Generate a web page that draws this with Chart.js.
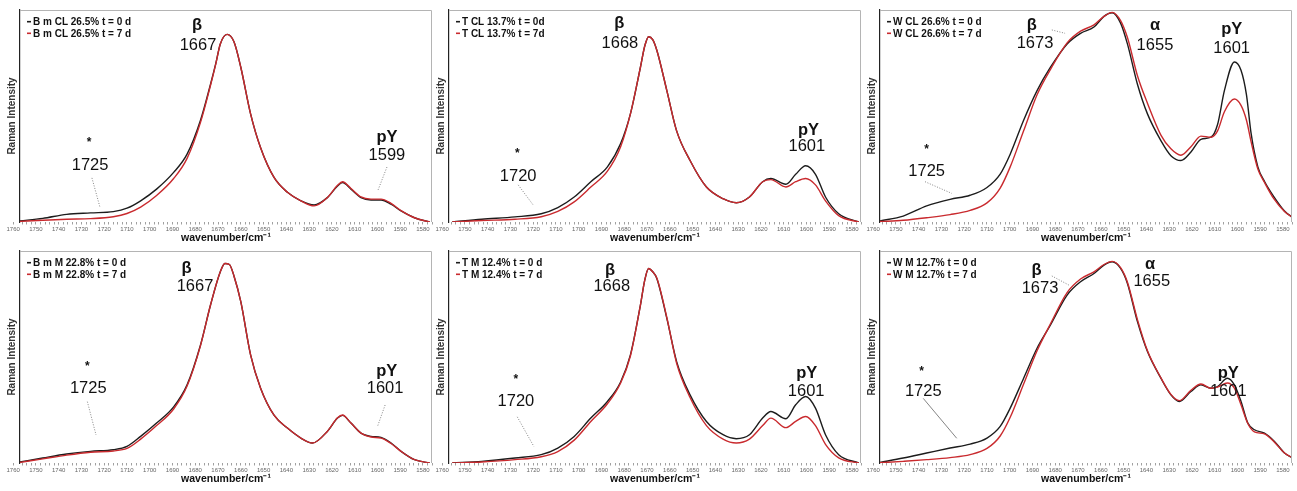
<!DOCTYPE html>
<html>
<head>
<meta charset="utf-8">
<script src="https://cdn.jsdelivr.net/npm/chart.js@4/dist/chart.umd.min.js"></script>
<style>
  html, body { margin: 0; padding: 0; background: #fff; }
  body { width: 1297px; height: 491px; position: relative; overflow: hidden; }
  canvas { position: absolute; }
</style>
</head>
<body>
<canvas id="bmCL" width="433" height="246" style="left:0px;top:0px"></canvas>
<canvas id="tCL" width="433" height="246" style="left:429px;top:0px"></canvas>
<canvas id="wCL" width="433" height="246" style="left:860px;top:0px"></canvas>
<canvas id="bmM" width="433" height="246" style="left:0px;top:241px"></canvas>
<canvas id="tM" width="433" height="246" style="left:429px;top:241px"></canvas>
<canvas id="wM" width="433" height="246" style="left:860px;top:241px"></canvas>
<script>
// Raman spectra, amide I region, intensities normalised (0-100)
var bmCL_wn = [1757,1747,1736.5,1726,1716,1710,1704,1697,1689.5,1683.6,1677.7,1673.3,1671,1669,1666,1663,1660,1655.7,1651.3,1645.4,1639.5,1633.6,1627.8,1622,1617.5,1615.3,1611.6,1607.2,1602.8,1598.4,1594,1589.6,1583.7,1577];
var bmCL_t0 = [0.5,1.7,3.6,4.3,4.9,6.5,10,15.5,23.4,32,48,65,74.7,84,88.5,85,73,51,35,21,14,10,8,11.5,17,18.6,15.5,11.5,10.4,10.4,8.4,5.2,2,0];
var bmCL_t7 = [0.3,0.8,1.3,1.6,2.5,4,7,12.5,20.5,30,47,64.5,74.5,84,88.5,85,73,51,35,21,14,10,7.6,11.5,17.3,19,15.8,11.8,10.8,10.8,8.8,5.4,2,0];

var tCL_wn = [1755.6,1742.6,1728,1716.5,1709.2,1702,1694.7,1687.4,1681.6,1677.3,1672.9,1671,1669.3,1667.5,1665.7,1661.3,1657,1651.1,1643.9,1636.6,1630.8,1625,1619.2,1615.6,1609,1604.7,1600.3,1596,1591.6,1585.8,1577];
var tCL_t0 = [0,1.3,2.4,3.9,6.8,11.8,19,26,37,51,73,83,87.4,86,81,62,43,29,16.5,11,9.1,11.8,19,20.5,17.8,22.5,26.5,22.5,11.8,3.9,0];
var tCL_t7 = [0,0.7,1.3,2.5,5,9.5,16.5,24,35.5,51,73,83,87.4,86,81,62,43,29,16.5,11,9.1,11.8,19,20,16.5,19,20.5,17.5,10,3,0];

var wCL_wn = [1757,1746.8,1736.5,1726.2,1717.4,1710,1704.2,1699.8,1693.9,1688,1682.1,1674.8,1668.9,1663,1658.6,1655,1651.3,1648.3,1643.9,1639.5,1633.6,1629.2,1624.8,1620.4,1616,1611.6,1608.7,1605.7,1601.3,1598.4,1596,1594,1591,1588,1584,1579.3,1575.6];
var wCL_t0 = [0.5,2.8,7.6,10.7,12.6,16.3,22.6,32,48,62,73,84,89,92,97,98.7,93.8,84,65,51,38.4,31.3,29,33,39,40,46,62,75.5,71.6,60,42,26,19,12,5.2,2];
var wCL_t7 = [0.2,0.8,2,3.5,5.5,9,16,26,43,60,72,84.5,90,93,97,98.9,95,87,69,56,41,34.5,31.5,35.5,40.5,40,43,52,58,55,48,38,25,18.5,11,5,2];

var bmM_wn = [1757,1747,1736.5,1726,1716,1710,1704,1697,1689.5,1683.6,1677.7,1673.3,1669,1667,1665,1663,1660,1655.7,1651.3,1645.4,1639.5,1633.6,1628.5,1622,1617.5,1615.3,1611.6,1607.2,1602.8,1598.4,1594,1589.6,1583.7,1577];
var bmM_t0 = [0.5,2.4,4.3,5.6,6.4,8,12.8,19.2,27,37.6,56.8,76,92,96,95.5,90,77.6,52,36,23,16.8,12,9.6,15.2,21.6,22.9,19.2,14.4,12.8,12.3,9.6,5.6,1.6,0];
var bmM_t7 = [0.3,2,3.8,5.2,5.8,7,11.5,18,26,37,56.5,76,92,96,95.5,90,77.6,52,36,23,16.8,12,9.6,15.2,21.8,23.1,19.2,14.4,12.5,12,9.4,5.6,1.6,0];

var tM_wn = [1755.6,1742.6,1728,1716.5,1709.2,1702,1694.7,1687.4,1681.6,1677.3,1672.9,1671,1669.3,1667.5,1665.7,1661.3,1657,1651.1,1643.9,1636.6,1630.8,1625,1619.2,1615.6,1609,1604.7,1600.3,1596,1591.6,1585.8,1577];
var tM_t0 = [0,0.8,2.4,4,7.2,12.8,21.6,29.6,39,52,76,88,93.6,92,88.8,69.6,48.8,32.8,20,13.6,11.7,13.6,21.6,24.8,21.3,28,32,26.4,13.6,4,0];
var tM_t7 = [0,0.5,1.6,3,5.5,11,20,28.5,38.5,51.5,76,88,93.6,92,89,70,48,31.5,18,11.5,9.6,11.5,18,21.6,17,20,22.4,18,9,2.5,0];

var wM_wn = [1757,1746.8,1736.5,1726.2,1717.4,1710,1704.2,1699.8,1693.9,1688,1682.1,1674.8,1668.9,1663,1658.6,1655,1651.3,1648.3,1643.9,1639.5,1633.6,1629.2,1625.5,1620.4,1616,1611.6,1608.7,1604.4,1601.3,1598.4,1595.4,1592.5,1588.1,1583.7,1579.3,1575.6];
var wM_t0 = [0.3,2.4,4.8,7.2,9.1,12,17.6,26.4,40.8,55.2,66.4,80.8,87.2,91.2,95.2,96.8,93.6,86.4,68,53.6,40.8,32.8,29.6,34.4,37.6,36,36.8,40.8,37.6,29.6,19.2,16,14.4,10.4,4.8,2.4];
var wM_t7 = [0.1,0.8,1.6,2.6,4,7,13,22,38,54,67,82,88.5,92,95.5,97,94,87,69,54,41,33,30,35,38,36,36.5,38.5,36,28,19,15,14,10,4.8,2.4];

// x axis: labels every 10 cm-1, small ticks every 2
var tickLabels = [1760,1750,1740,1730,1720,1710,1700,1690,1680,1670,1660,1650,1640,1630,1620,1610,1600,1590,1580];

var FONT = "'Liberation Sans', Arial, sans-serif";
var BLACK = '#1c1c1c';
var RED = '#c92a2e';

// inline legend in the top-left corner of the plot
var cornerLegend = {
  id: 'cornerLegend',
  afterDraw: function(chart) {
    var ctx = chart.ctx, a = chart.chartArea;
    ctx.save();
    ctx.font = 'bold 10px ' + FONT;
    ctx.textBaseline = 'middle';
    chart.data.datasets.forEach(function(ds, i) {
      var y = a.top + 11.7 + i * 11.6;
      ctx.strokeStyle = ds.borderColor;
      ctx.lineWidth = 1.6;
      ctx.beginPath();
      ctx.moveTo(a.left + 7, y);
      ctx.lineTo(a.left + 11, y);
      ctx.stroke();
      ctx.fillStyle = '#111';
      ctx.fillText(ds.label, a.left + 13, y + 0.5);
    });
    ctx.restore();
  }
};

// peak labels and leader lines, placed in data units
var peakNotes = {
  id: 'peakNotes',
  afterDatasetsDraw: function(chart, args, opts) {
    var ctx = chart.ctx, xs = chart.scales.x, ys = chart.scales.y;
    ctx.save();
    (opts.leaders || []).forEach(function(l) {
      ctx.strokeStyle = '#666';
      ctx.lineWidth = 0.8;
      ctx.setLineDash(l.solid ? [] : [1, 1.6]);
      ctx.beginPath();
      ctx.moveTo(xs.getPixelForValue(l.from[0]), ys.getPixelForValue(l.from[1]));
      ctx.lineTo(xs.getPixelForValue(l.to[0]), ys.getPixelForValue(l.to[1]));
      ctx.stroke();
    });
    ctx.setLineDash([]);
    ctx.textAlign = 'center';
    ctx.textBaseline = 'middle';
    ctx.fillStyle = '#111';
    (opts.labels || []).forEach(function(n) {
      ctx.font = (n.bold ? 'bold ' : '') + (n.size || 16.5) + 'px ' + FONT;
      ctx.fillText(n.text, xs.getPixelForValue(n.x), ys.getPixelForValue(n.y));
    });
    ctx.restore();
  }
};

// gray top and right edges of the plot frame
var plotFrame = {
  id: 'plotFrame',
  afterDraw: function(chart) {
    var ctx = chart.ctx, a = chart.chartArea;
    ctx.save();
    ctx.strokeStyle = '#b4b4b4';
    ctx.lineWidth = 1;
    ctx.beginPath();
    ctx.moveTo(a.left, a.top + 0.5);
    ctx.lineTo(a.right - 0.5, a.top + 0.5);
    ctx.lineTo(a.right - 0.5, a.bottom);
    ctx.stroke();
    ctx.restore();
  }
};

function series(wn, vals) {
  return wn.map(function(x, i) { return { x: x, y: vals[i] }; });
}

function makePanel(id, wn, t0, t7, names, yMax, labels, leaders) {
  new Chart(document.getElementById(id), {
    type: 'line',
    data: {
      datasets: [
        { label: names[0], data: series(wn, t0), borderColor: BLACK, borderWidth: 1.4, order: 1 },
        { label: names[1], data: series(wn, t7), borderColor: RED, borderWidth: 1.4, order: 0 }
      ]
    },
    options: {
      responsive: false,
      animation: false,
      layout: { autoPadding: false, padding: { top: 10, right: 1, left: 0, bottom: 0 } },
      elements: {
        point: { radius: 0 },
        line: { cubicInterpolationMode: 'monotone', fill: false }
      },
      plugins: {
        legend: { display: false },
        tooltip: { enabled: false },
        peakNotes: { labels: labels, leaders: leaders }
      },
      scales: {
        x: {
          type: 'linear',
          reverse: true,
          min: 1576,
          max: 1757,
          afterFit: function(s) { s.height = 24; s.paddingLeft = 0; s.paddingRight = 0; },
          afterBuildTicks: function(s) {
            // left to right: 1760 label just outside, then every 2 cm-1
            var t = [{ value: tickLabels[0] }];
            for (var v = 1756; v >= 1576; v -= 2) t.push({ value: v });
            s.ticks = t;
          },
          ticks: {
            autoSkip: false,
            maxRotation: 0,
            padding: 1,
            color: '#666',
            font: { family: FONT, size: 6 },
            callback: function(v) { return tickLabels.indexOf(v) >= 0 ? String(v) : ''; }
          },
          grid: { display: true, drawOnChartArea: false, drawTicks: true, tickLength: 2.5, tickColor: '#888', tickWidth: 0.8 },
          border: { display: false },
          title: {
            display: true,
            text: 'wavenumber/cm\u207B\u00B9',
            color: '#111',
            font: { family: FONT, size: 10.5, weight: 'bold' },
            padding: { top: 0, bottom: 2 }
          }
        },
        y: {
          min: 0,
          max: yMax,
          afterFit: function(s) { s.width = 20; },
          ticks: { display: false },
          grid: { display: true, drawOnChartArea: false, drawTicks: false },
          border: { display: true, color: '#222', width: 1.2 },
          title: {
            display: true,
            text: 'Raman Intensity',
            color: '#333',
            font: { family: FONT, size: 10, weight: 'bold' },
            padding: { top: 6, bottom: 0 }
          }
        }
      }
    },
    plugins: [cornerLegend, peakNotes, plotFrame]
  });
}

makePanel('bmCL', bmCL_wn, bmCL_t0, bmCL_t7,
  ['B m CL 26.5% t = 0 d', 'B m CL 26.5% t = 7 d'], 100,
  [
    { text: '\u03B2', x: 1679.2, y: 92.9, bold: true },
    { text: '1667', x: 1678.8, y: 83.5 },
    { text: '*', x: 1726.7, y: 37.3, bold: true, size: 12 },
    { text: '1725', x: 1726.2, y: 26.9 },
    { text: 'pY', x: 1595.8, y: 40.1, bold: true },
    { text: '1599', x: 1595.8, y: 31.6 }
  ],
  [
    { from: [1725.4, 20.8], to: [1721.9, 7.1] },
    { from: [1595.8, 25.9], to: [1599.7, 15.1] }
  ]);

makePanel('tCL', tCL_wn, tCL_t0, tCL_t7,
  ['T CL 13.7% t = 0d', 'T CL 13.7% t = 7d'], 100,
  [
    { text: '\u03B2', x: 1682.2, y: 93.7, bold: true },
    { text: '1668', x: 1681.9, y: 84.3 },
    { text: '*', x: 1727.0, y: 32.4, bold: true, size: 12 },
    { text: '1720', x: 1726.6, y: 21.7 },
    { text: 'pY', x: 1599.1, y: 43.4, bold: true },
    { text: '1601', x: 1599.8, y: 35.5 }
  ],
  [
    { from: [1726.6, 17.5], to: [1720.0, 8.0] }
  ]);

makePanel('wCL', wCL_wn, wCL_t0, wCL_t7,
  ['W CL 26.6% t = 0 d', 'W CL 26.6% t = 7 d'], 100,
  [
    { text: '\u03B2', x: 1690.3, y: 92.9, bold: true },
    { text: '1673', x: 1688.9, y: 84.3 },
    { text: '\u03B1', x: 1636.2, y: 92.9, bold: true },
    { text: '1655', x: 1636.2, y: 83.5 },
    { text: 'pY', x: 1602.5, y: 90.6, bold: true },
    { text: '1601', x: 1602.5, y: 81.9 },
    { text: '*', x: 1736.5, y: 34.0, bold: true, size: 12 },
    { text: '1725', x: 1736.5, y: 23.7 }
  ],
  [
    { from: [1681.5, 90.6], to: [1675.7, 89.0] },
    { from: [1737.2, 19.0], to: [1725.5, 13.5] }
  ]);

makePanel('bmM', bmM_wn, bmM_t0, bmM_t7,
  ['B m M 22.8% t = 0 d', 'B m M 22.8% t = 7 d'], 102,
  [
    { text: '\u03B2', x: 1683.8, y: 93.6, bold: true },
    { text: '1667', x: 1680.1, y: 84.9 },
    { text: '*', x: 1727.4, y: 46.3, bold: true, size: 12 },
    { text: '1725', x: 1727.0, y: 35.9 },
    { text: 'pY', x: 1595.9, y: 44.0, bold: true },
    { text: '1601', x: 1596.6, y: 35.9 }
  ],
  [
    { from: [1727.4, 29.5], to: [1723.6, 13.5] },
    { from: [1596.6, 27.9], to: [1600.0, 17.4] }
  ]);

makePanel('tM', tM_wn, tM_t0, tM_t7,
  ['T M 12.4% t = 0 d', 'T M 12.4% t = 7 d'], 102,
  [
    { text: '\u03B2', x: 1686.3, y: 92.8, bold: true },
    { text: '1668', x: 1685.5, y: 84.9 },
    { text: '*', x: 1727.6, y: 40.0, bold: true, size: 12 },
    { text: '1720', x: 1727.6, y: 29.5 },
    { text: 'pY', x: 1599.8, y: 43.1, bold: true },
    { text: '1601', x: 1600.1, y: 34.3 }
  ],
  [
    { from: [1727.0, 22.2], to: [1719.7, 7.9] }
  ]);

makePanel('wM', wM_wn, wM_t0, wM_t7,
  ['W M 12.7% t = 0 d', 'W M 12.7% t = 7 d'], 102,
  [
    { text: '\u03B2', x: 1688.2, y: 92.8, bold: true },
    { text: '1673', x: 1686.7, y: 84.0 },
    { text: '\u03B1', x: 1638.4, y: 95.3, bold: true },
    { text: '1655', x: 1637.6, y: 87.2 },
    { text: 'pY', x: 1604.0, y: 43.1, bold: true },
    { text: '1601', x: 1604.0, y: 34.3 },
    { text: '*', x: 1738.7, y: 44.0, bold: true, size: 12 },
    { text: '1725', x: 1738.0, y: 34.3 }
  ],
  [
    { from: [1681.5, 90.0], to: [1673.5, 85.3] },
    { from: [1738.0, 31.1], to: [1723.3, 11.9], solid: true }
  ]);
</script>
</body>
</html>
